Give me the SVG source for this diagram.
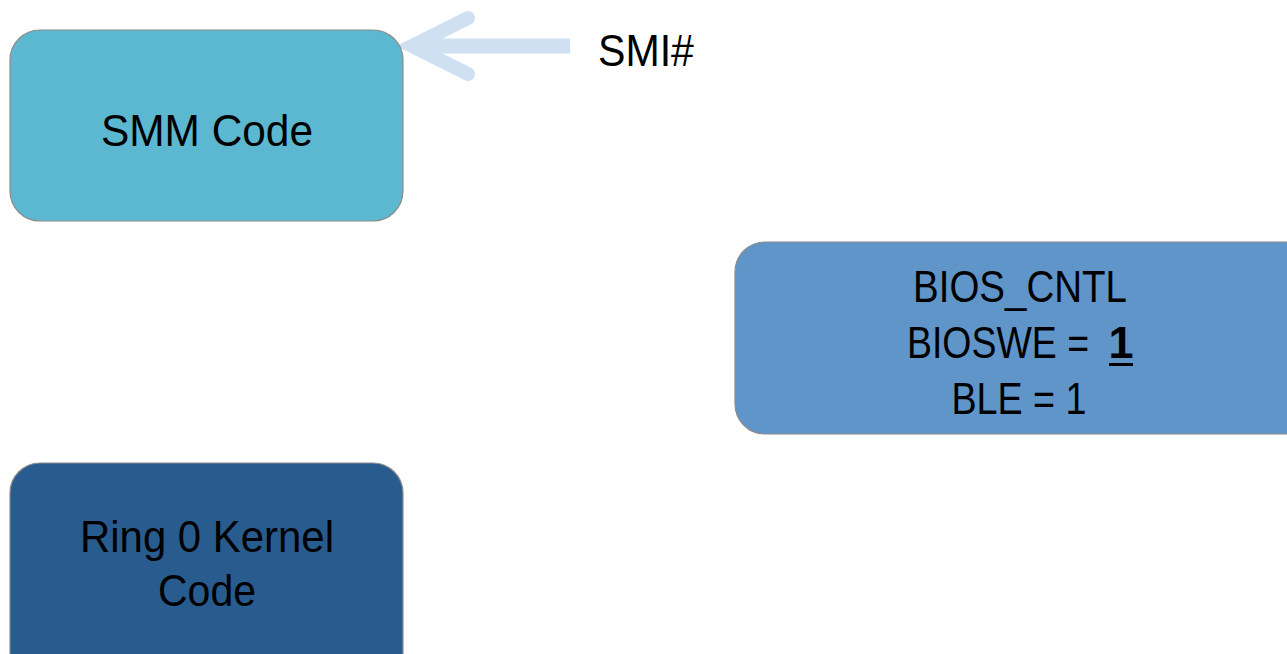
<svg xmlns="http://www.w3.org/2000/svg" width="1287" height="654" viewBox="0 0 1287 654">
<style>
.box{stroke:#8c8c8c;stroke-width:1.2}
.t{font-family:"Liberation Sans",Arial,sans-serif;font-size:45px;fill:#000;text-anchor:middle}
.arr{fill:none;stroke:#cfe0f2;stroke-linecap:round;stroke-linejoin:miter}
</style>
<rect width="1287" height="654" fill="#fff"/>
<g id="connectors">
<line class="arr" x1="570" y1="46" x2="418" y2="46" stroke-width="15" style="stroke-linecap:butt"/>
<polyline class="arr" points="468,18 412,46 468,74" stroke-width="14"/>
</g>
<g id="smm">
<rect class="box" x="10" y="30" width="393" height="191" rx="30" fill="#5bb8d0"/>
<text class="t" x="207" y="146" textLength="212" lengthAdjust="spacingAndGlyphs">SMM Code</text>
</g>
<g id="smi">
<text class="t" x="646" y="66" textLength="96" lengthAdjust="spacingAndGlyphs">SMI#</text>
</g>
<g id="bios">
<rect class="box" x="735" y="242" width="580" height="192" rx="30" fill="#6095c9"/>
<text class="t" x="1020" y="302" textLength="214" lengthAdjust="spacingAndGlyphs">BIOS_CNTL</text>
<text class="t" x="998" y="358" font-size="43" textLength="182" lengthAdjust="spacingAndGlyphs">BIOSWE =</text>
<text class="t" x="1121" y="358" font-weight="bold">1</text>
<line x1="1109" y1="364.5" x2="1133" y2="364.5" stroke="#000" stroke-width="3"/>
<text class="t" x="1019" y="414" textLength="135" lengthAdjust="spacingAndGlyphs">BLE = 1</text>
</g>
<g id="ring0">
<rect class="box" x="10" y="463" width="393" height="230" rx="30" fill="#285c8e"/>
<text class="t" x="207" y="552" textLength="254" lengthAdjust="spacingAndGlyphs">Ring 0 Kernel</text>
<text class="t" x="207" y="606" textLength="98" lengthAdjust="spacingAndGlyphs">Code</text>
</g>
</svg>
